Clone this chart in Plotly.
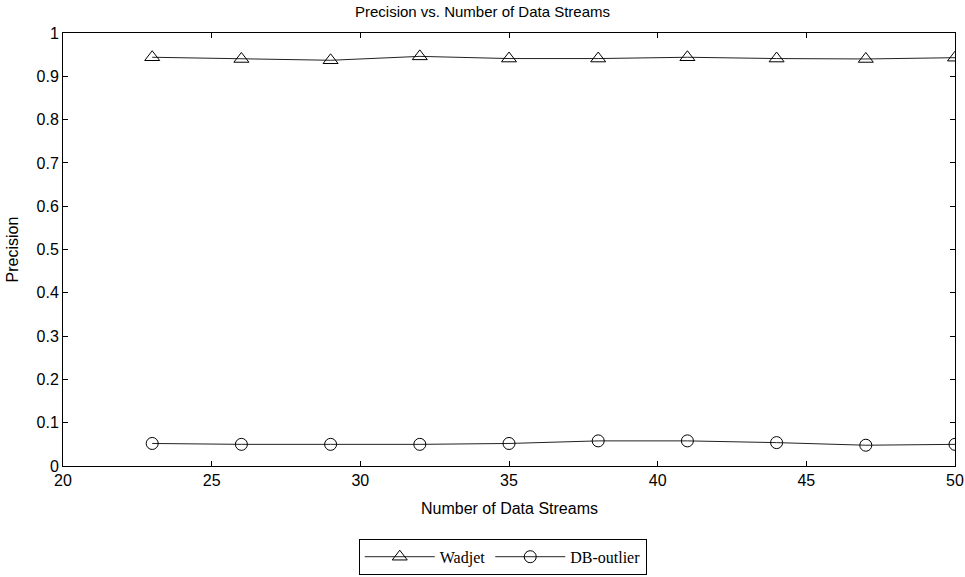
import plotly.graph_objects as go

# Data
streams = [23, 26, 29, 32, 35, 38, 41, 44, 47, 50]
wadjet = [0.944, 0.940, 0.937, 0.946, 0.941, 0.941, 0.944, 0.941, 0.940, 0.943]
db_outlier = [0.052, 0.050, 0.050, 0.050, 0.052, 0.058, 0.058, 0.054, 0.048, 0.050]

fig = go.Figure()

fig.add_trace(go.Scatter(
    x=streams, y=wadjet, name="Wadjet", mode="lines+markers",
    line=dict(color="#222222", width=1),
    marker=dict(symbol="triangle-up-open", size=13, color="black", line=dict(width=1))
))
fig.add_trace(go.Scatter(
    x=streams, y=db_outlier, name="DB-outlier", mode="lines+markers",
    line=dict(color="#222222", width=1),
    marker=dict(symbol="circle-open", size=12, color="black", line=dict(width=1))
))

axis_common = dict(
    showline=True, linecolor="black", linewidth=1, mirror="ticks",
    ticks="inside", ticklen=5, tickcolor="black",
    showgrid=False, zeroline=False, automargin=False,
    tickfont=dict(family="Arial, Liberation Sans, sans-serif", size=16, color="black"),
)

fig.update_layout(
    width=965, height=577,
    margin=dict(l=63, r=10, t=33, b=111),
    paper_bgcolor="white", plot_bgcolor="white",
    font=dict(family="Arial, Liberation Sans, sans-serif", color="black"),
    title=dict(text="Precision vs. Number of Data Streams", x=0.5, xanchor="center",
               y=0.979, yref="container", yanchor="middle", font=dict(size=15)),
    xaxis=dict(axis_common, range=[20, 50], dtick=5),
    yaxis=dict(axis_common, range=[0, 1], dtick=0.1),
    legend=dict(orientation="h", xref="container", yref="container",
                x=0.521, xanchor="center", y=0.035, yanchor="middle",
                bordercolor="black", borderwidth=1, bgcolor="white", itemwidth=70,
                font=dict(family="Times New Roman, Liberation Serif, serif", size=16)),
    annotations=[
        dict(text="Number of Data Streams", xref="paper", yref="paper", x=0.5, y=0,
             yanchor="middle", yshift=-42, showarrow=False, font=dict(size=16)),
        dict(text="Precision", xref="paper", yref="paper", x=0, y=0.5, xanchor="center",
             xshift=-51, textangle=-90, showarrow=False, font=dict(size=16)),
    ],
)

# drop the page's default body margin so the figure fills the window exactly
fig.write_html("out.html", config={"displayModeBar": False},
               post_script="document.body.style.margin='0';")
